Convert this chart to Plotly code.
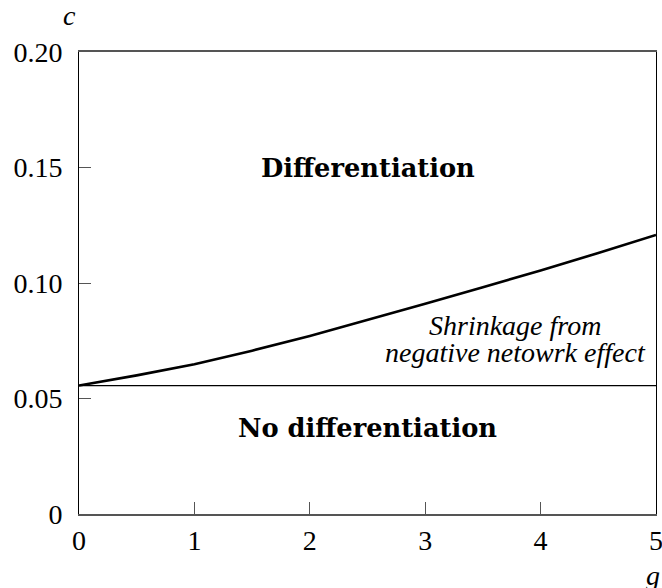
import plotly.graph_objects as go

# data
g_vals = [0, 0.5, 1, 1.5, 2, 2.5, 3, 3.5, 4, 4.5, 5]
c_curve = [0.0556, 0.0600, 0.0648, 0.0707, 0.0771, 0.0839, 0.0910, 0.0982, 0.1054, 0.1130, 0.1208]
c_threshold = 0.0556
x_ticks = [0, 1, 2, 3, 4, 5]
y_ticks = [0, 0.05, 0.10, 0.15, 0.20]
y_tick_labels = ["0", "0.05", "0.10", "0.15", "0.20"]

SERIF = "Liberation Serif, Times New Roman, serif"

fig = go.Figure()
fig.add_trace(go.Scatter(x=g_vals, y=c_curve, mode="lines",
                         line=dict(color="black", width=2.6), showlegend=False,
                         hoverinfo="skip"))
fig.add_trace(go.Scatter(x=[g_vals[0], g_vals[-1]], y=[c_threshold, c_threshold], mode="lines",
                         line=dict(color="black", width=1.3), showlegend=False,
                         hoverinfo="skip"))

tick_font = dict(family=SERIF, size=28, color="black")
fig.update_xaxes(range=[0, 5], tickvals=x_ticks, ticktext=[str(v) for v in x_ticks],
                 ticks="inside", ticklen=12, tickcolor="#555", tickwidth=1,
                 showline=True, linecolor="#555", linewidth=1.5, mirror=True,
                 showgrid=False, zeroline=False, tickfont=tick_font, ticklabelstandoff=1,
                 ticklabeloverflow="allow", automargin=False)
fig.update_yaxes(range=[0, 0.2], tickvals=y_ticks, ticktext=y_tick_labels,
                 ticks="inside", ticklen=12, tickcolor="#555", tickwidth=1,
                 showline=True, linecolor="black", linewidth=1, mirror=True,
                 showgrid=False, zeroline=False, tickfont=tick_font, ticklabelstandoff=10,
                 automargin=False)

bold_font = dict(family="DejaVu Serif", size=25.7, color="black")
ital_font = dict(family=SERIF, size=28, color="black")
fig.add_annotation(x=2.5, y=0.15, text="<b>Differentiation</b>", showarrow=False, font=bold_font)
fig.add_annotation(x=2.5, y=0.0372, text="<b>No differentiation</b>", showarrow=False, font=bold_font)
fig.add_annotation(x=3.78, y=0.0815, text="<i>Shrinkage from</i>",
                   showarrow=False, font=ital_font, xanchor="center", yanchor="middle", borderpad=0)
fig.add_annotation(x=3.78, y=0.0698, text="<i>negative netowrk effect</i>",
                   showarrow=False, font=ital_font, xanchor="center", yanchor="middle", borderpad=0)
fig.add_annotation(xref="paper", yref="paper", x=-0.0156, y=1.0, yshift=37, text="<i>c</i>",
                   showarrow=False, font=ital_font, xanchor="center", yanchor="middle")
fig.add_annotation(xref="paper", yref="paper", x=1.0, y=0.0, yshift=-61, xshift=-3, text="<i>g</i>",
                   showarrow=False, font=ital_font, xanchor="center", yanchor="middle")

fig.update_layout(width=662, height=588, margin=dict(l=79, r=6, t=52, b=74),
                  paper_bgcolor="white", plot_bgcolor="white")
fig.write_html("out.html", config={"displayModeBar": False},
               post_script="document.body.style.margin='0';document.body.style.overflow='hidden';")
